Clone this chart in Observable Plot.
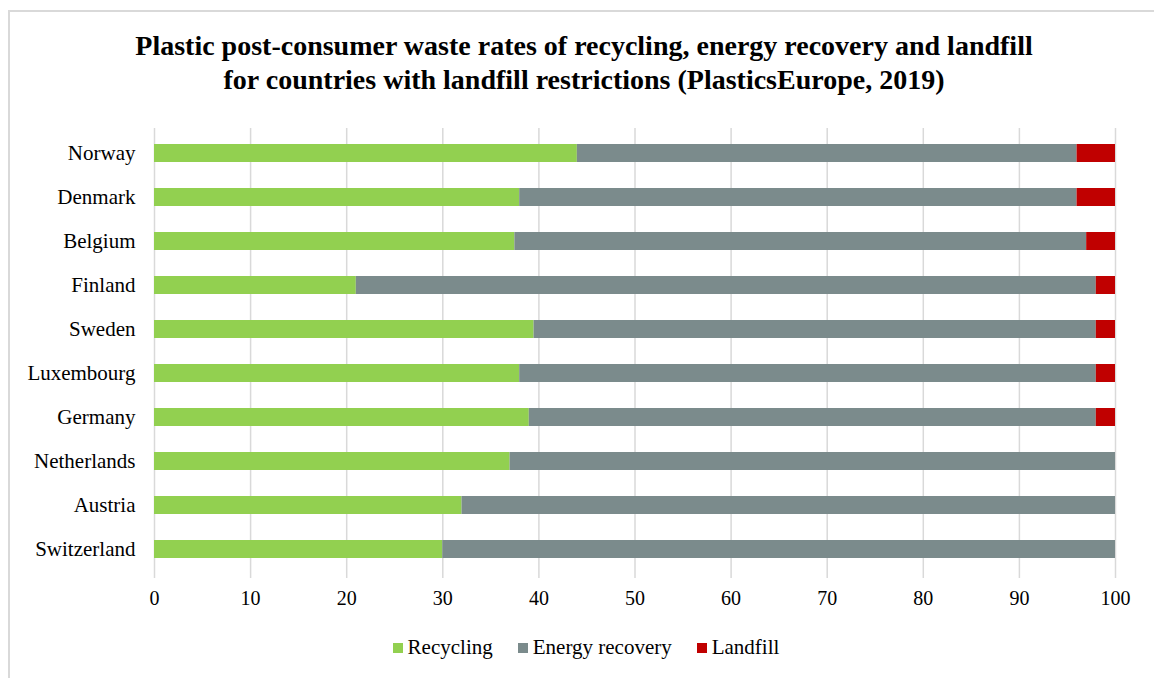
<!DOCTYPE html>
<html>
<head>
<meta charset="utf-8">
<script src="https://cdn.jsdelivr.net/npm/d3@7"></script>
<script src="https://cdn.jsdelivr.net/npm/@observablehq/plot@0.6"></script>
<style>
  body { margin: 0; background: #fff; font-family: "Liberation Serif", "Times New Roman", serif; }
  #frame { position: absolute; left: 8px; top: 10px; width: 1160px; height: 680px;
           border-left: 2px solid #d9d9d9; border-top: 2px solid #d9d9d9; }
  #title { position: absolute; left: 7px; top: 29px; width: 1154px; text-align: center;
           font-weight: bold; font-size: 28px; line-height: 34px; color: #000; }
  #chart { position: absolute; left: 0; top: 100px; }
  #legend { position: absolute; left: 0; top: 635px; width: 1154px; display: flex;
            justify-content: center; gap: 25px; font-size: 21px; color: #000; padding-left: 18px; box-sizing: border-box; }
  #legend span.item { display: flex; align-items: center; }
  #legend span.sw { display: inline-block; width: 10px; height: 10px; margin-right: 5px; }
</style>
</head>
<body>
<div id="frame"></div>
<div id="title">Plastic post-consumer waste rates of recycling, energy recovery and landfill<br>for countries with landfill restrictions (PlasticsEurope, 2019)</div>
<div id="chart"></div>
<div id="legend"></div>
<script>
// Countries, top to bottom
const countries = ["Norway", "Denmark", "Belgium", "Finland", "Sweden", "Luxembourg", "Germany", "Netherlands", "Austria", "Switzerland"];
// Shares of plastic post-consumer waste (%)
const recycling      = [44, 38, 37.5, 21, 39.5, 38, 39, 37, 32, 30];
const energyRecovery = [52, 58, 59.5, 77, 58.5, 60, 59, 63, 68, 70];
const landfill       = [4, 4, 3, 2, 2, 2, 2, 0, 0, 0];
const seriesNames = ["Recycling", "Energy recovery", "Landfill"];
const seriesColors = ["#92d050", "#7b8b8c", "#c00000"];
const xTicks = [0, 10, 20, 30, 40, 50, 60, 70, 80, 90, 100];

const seriesValues = [recycling, energyRecovery, landfill];
const rows = [];
countries.forEach((c, i) => {
  seriesNames.forEach((s, j) => rows.push({country: c, series: s, value: seriesValues[j][i]}));
});

const chart = Plot.plot({
  width: 1154,
  height: 520,
  marginLeft: 154,
  marginRight: 39,
  marginTop: 28,
  marginBottom: 47,
  style: {fontFamily: "'Liberation Serif', 'Times New Roman', serif", fontSize: "20px", color: "#000", background: "transparent"},
  x: {domain: [0, 100], ticks: xTicks, label: null},
  y: {domain: countries, label: null, paddingInner: 0.6, paddingOuter: 0.3},
  color: {domain: seriesNames, range: seriesColors},
  marks: [
    Plot.gridX(xTicks, {stroke: "#d9d9d9", strokeOpacity: 1, strokeWidth: 1.5}),
    Plot.barX(rows, Plot.stackX({x: "value", y: "country", fill: "series", order: seriesNames})),
    Plot.axisX(xTicks, {tickSize: 5, tickPadding: 12, stroke: "#d9d9d9", strokeWidth: 1.5, fontSize: 20, fill: "#000"}),
    Plot.axisY({tickSize: 0, tickPadding: 19, fontSize: 21, fill: "#000"})
  ]
});
document.getElementById("chart").appendChild(chart);

const legend = document.getElementById("legend");
seriesNames.forEach((s, j) => {
  const item = document.createElement("span");
  item.className = "item";
  const sw = document.createElement("span");
  sw.className = "sw";
  sw.style.background = seriesColors[j];
  item.appendChild(sw);
  item.appendChild(document.createTextNode(s));
  legend.appendChild(item);
});
</script>
</body>
</html>
